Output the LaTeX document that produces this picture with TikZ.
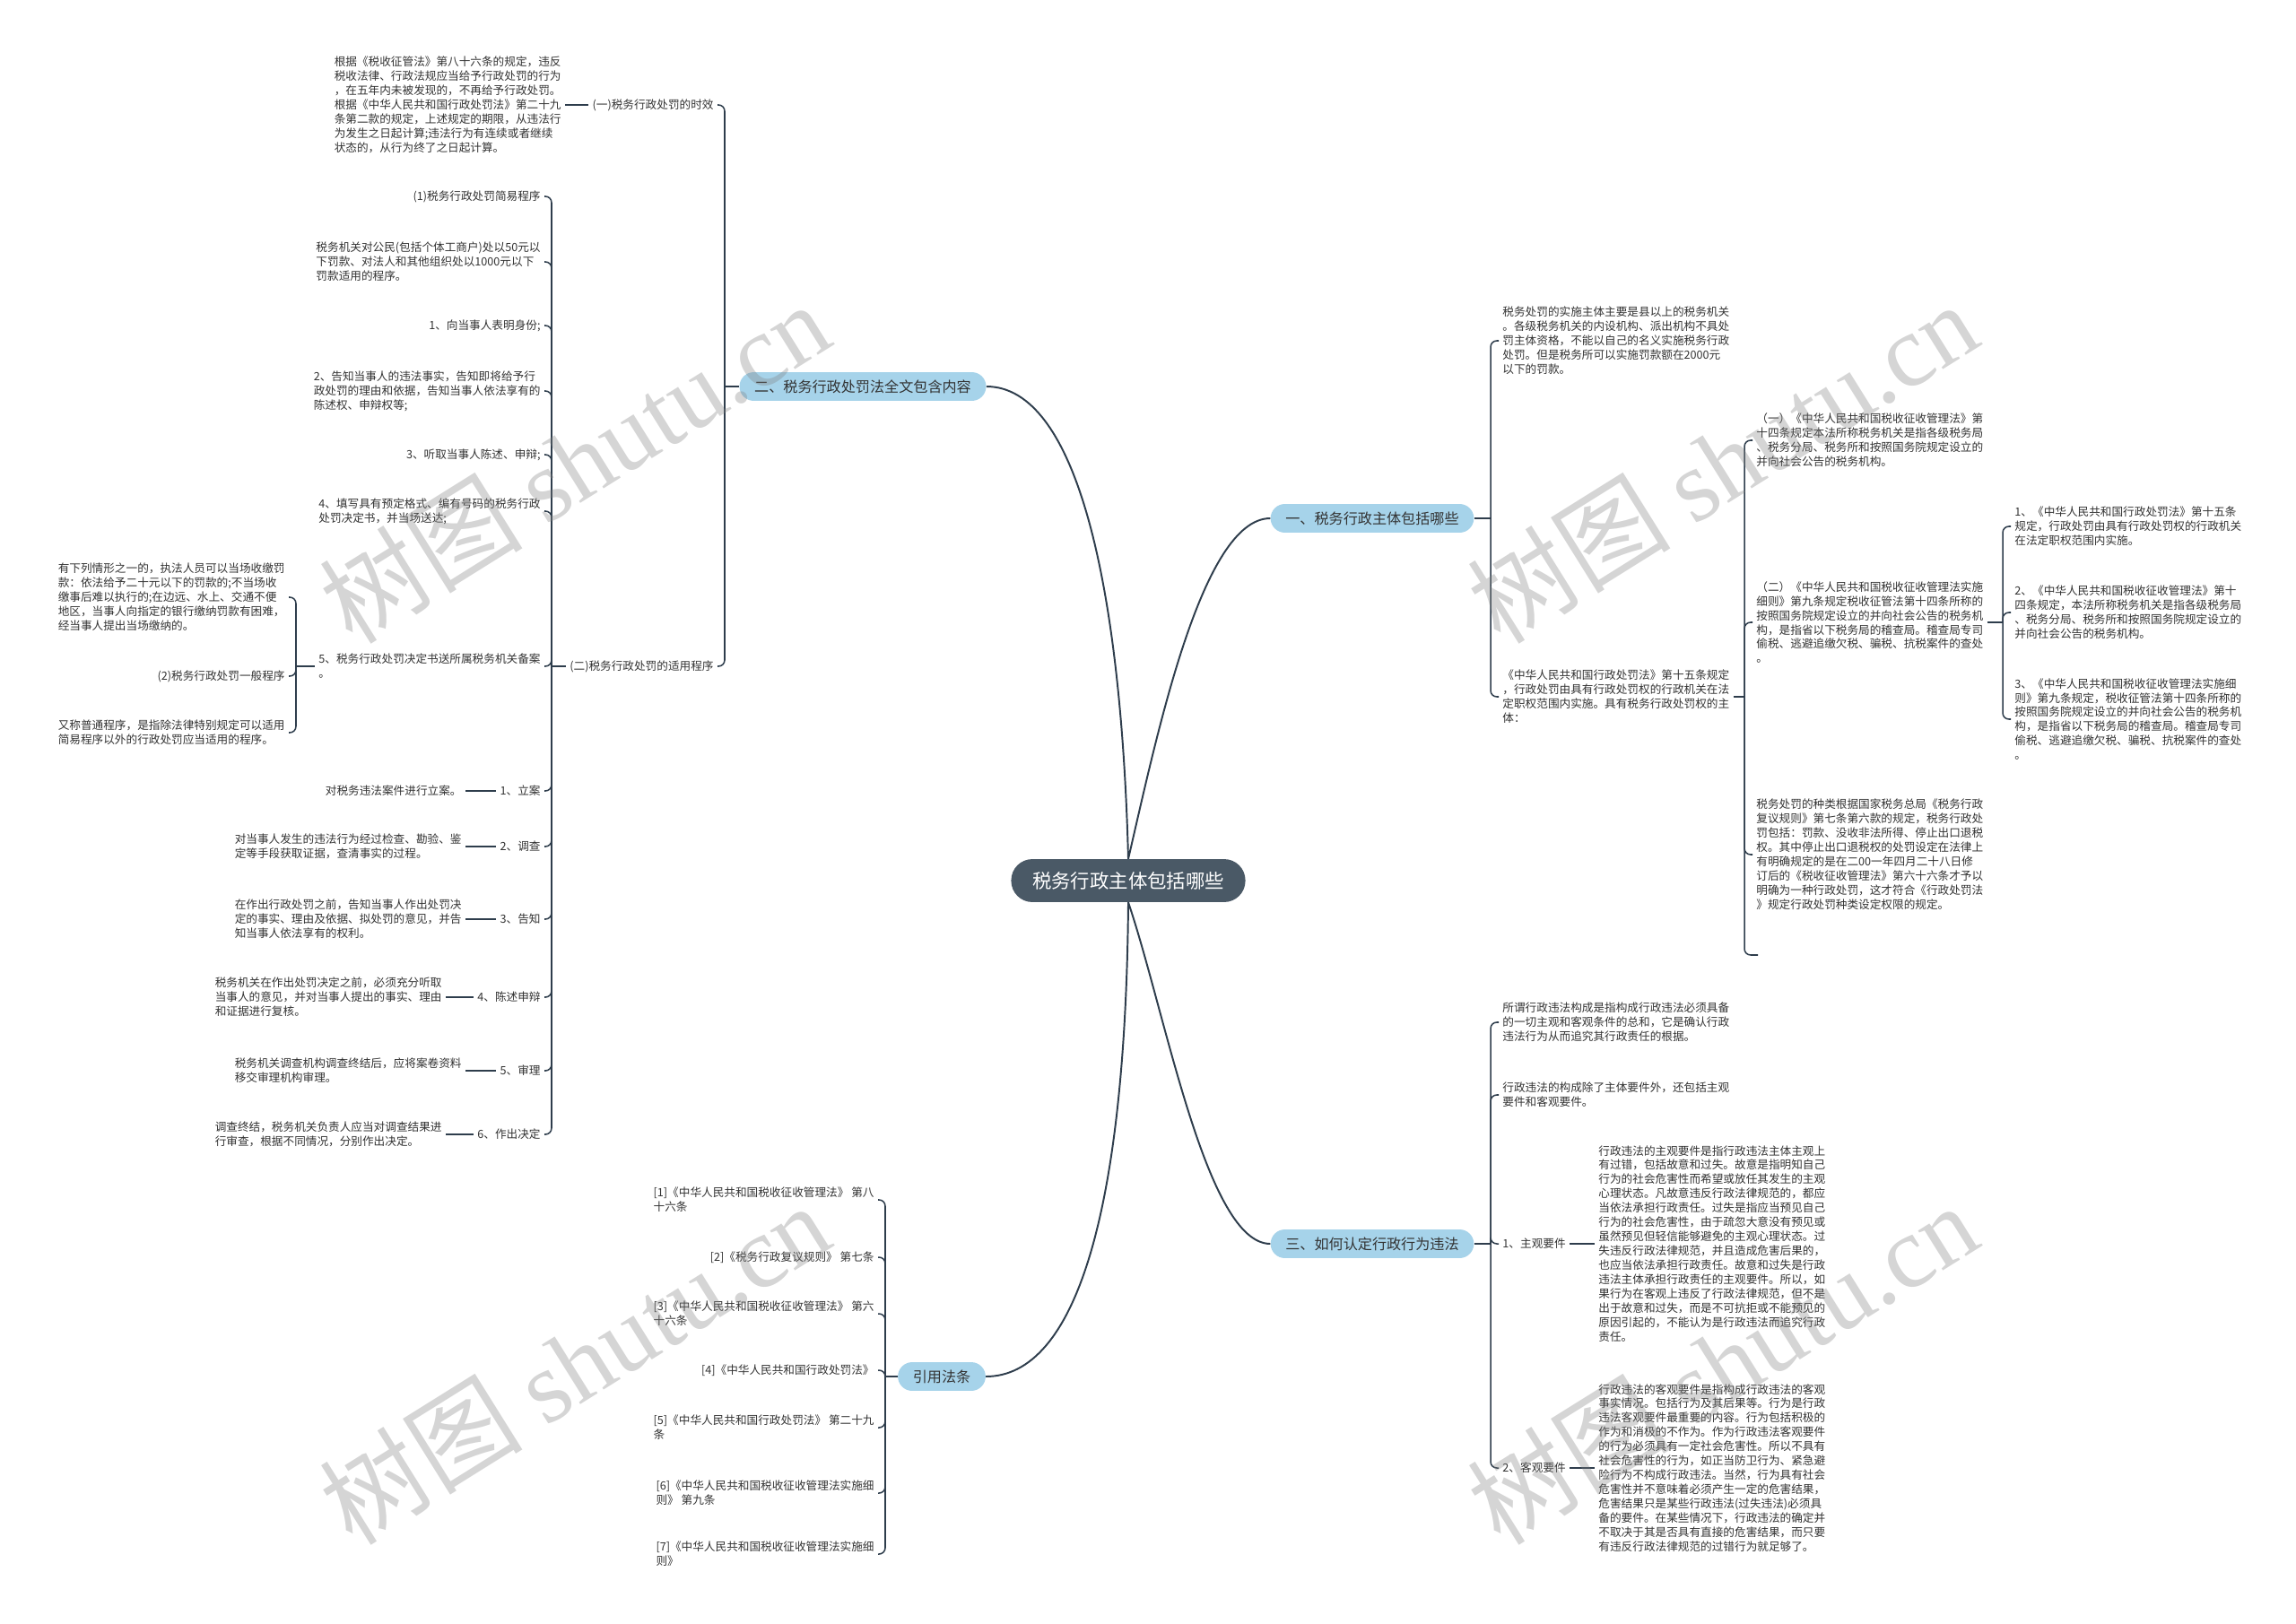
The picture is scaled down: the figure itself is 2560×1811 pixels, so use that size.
\documentclass[tikz,border=0pt]{standalone}
\usepackage{fontspec}
\setmainfont{Noto Sans CJK SC}
\newfontfamily\wmlatin{Liberation Serif}
\definecolor{linec}{HTML}{2E3D4C}
\definecolor{mainf}{HTML}{4A5966}
\definecolor{brf}{HTML}{A6D3EA}
\definecolor{txtc}{HTML}{333333}
\begin{document}
\begin{tikzpicture}[x=0.72pt,y=-0.72pt,
 tx/.style={inner xsep=3pt,inner ysep=1pt,font=\fontsize{9.1pt}{11.5pt}\selectfont,text=txtc,align=left},
 txl/.style={tx,anchor=east},
 txr/.style={tx,anchor=west},
 brn/.style={fill=brf,rounded corners=11.5pt,minimum height=23pt,inner xsep=12pt,inner ysep=2pt,font=\fontsize{11.6pt}{14pt}\selectfont,text=txtc},
 mainn/.style={fill=mainf,rounded corners=17pt,minimum height=34.5pt,minimum width=188pt,font=\fontsize{15.4pt}{18pt}\selectfont,text=white},
 ln/.style={draw=linec,line width=1.1pt},
 lnk/.style={ln,rounded corners=5pt},
 mln/.style={draw=linec,line width=1.4pt},
 wm/.style={text=gray,opacity=0.33,rotate=32,font=\fontsize{82pt}{82pt}\selectfont}
]
\fill[white] (0,0) rectangle (2560,1811);
\useasboundingbox (0,0) rectangle (2560,1811);

% ---------- main and branches
\node[mainn] (main) at (1258,982) {税务行政主体包括哪些};
\node[brn] (b2) at (962,431) {二、税务行政处罚法全文包含内容};
\node[brn] (b1) at (1530,578) {一、税务行政主体包括哪些};
\node[brn] (b3) at (1530,1387) {三、如何认定行政行为违法};
\node[brn] (b4) at (1050,1535) {引用法条};

\draw[mln] (main.north) .. controls (1250,650) and (1200,431) .. (b2.east);
\draw[mln] (main.north) .. controls (1290,820) and (1340,578) .. (b1.west);
\draw[mln] (main.south) .. controls (1300,1130) and (1345,1387) .. (b3.west);
\draw[mln] (main.south) .. controls (1255,1350) and (1200,1535) .. (b4.east);

% ---------- branch 二
\node[txl] (L1) at (800,117) {(一)税务行政处罚的时效};
\node[txl] (L2) at (800,743) {(二)税务行政处罚的适用程序};
\draw[ln] (b2.west) -- (808,431);
\draw[lnk] (808,431) |- (L1.east);
\draw[lnk] (808,431) |- (L2.east);

\node[txl] (L1c) at (630,117) {根据《税收征管法》第八十六条的规定，违反\\税收法律、行政法规应当给予行政处罚的行为\\，在五年内未被发现的，不再给予行政处罚。\\根据《中华人民共和国行政处罚法》第二十九\\条第二款的规定，上述规定的期限，从违法行\\为发生之日起计算;违法行为有连续或者继续\\状态的，从行为终了之日起计算。};
\draw[ln] (L1c.east) -- (L1.west);

\node[txl] (B1) at (607,219) {(1)税务行政处罚简易程序};
\node[txl] (B2) at (607,292) {税务机关对公民(包括个体工商户)处以50元以\\下罚款、对法人和其他组织处以1000元以下\\罚款适用的程序。};
\node[txl] (B3) at (607,363) {1、向当事人表明身份;};
\node[txl] (B4) at (607,436) {2、告知当事人的违法事实，告知即将给予行\\政处罚的理由和依据，告知当事人依法享有的\\陈述权、申辩权等;};
\node[txl] (B5) at (607,507) {3、听取当事人陈述、申辩;};
\node[txl] (B6) at (607,570) {4、填写具有预定格式、编有号码的税务行政\\处罚决定书，并当场送达;};
\node[txl] (B7) at (607,743) {5、税务行政处罚决定书送所属税务机关备案\\。};
\node[txl] (B8) at (607,882) {1、立案};
\node[txl] (B9) at (607,944) {2、调查};
\node[txl] (B10) at (607,1025) {3、告知};
\node[txl] (B11) at (607,1112) {4、陈述申辩};
\node[txl] (B12) at (607,1194) {5、审理};
\node[txl] (B13) at (607,1265) {6、作出决定};
\draw[ln] (L2.west) -- (615,743);
\foreach \n in {B1,B2,B3,B4,B5,B6,B7,B8,B9,B10,B11,B12,B13}
  \draw[lnk] (615,743) |- (\n.east);

\node[txl] (C1) at (322,666) {有下列情形之一的，执法人员可以当场收缴罚\\款：依法给予二十元以下的罚款的;不当场收\\缴事后难以执行的;在边远、水上、交通不便\\地区，当事人向指定的银行缴纳罚款有困难，\\经当事人提出当场缴纳的。};
\node[txl] (C2) at (322,754) {(2)税务行政处罚一般程序};
\node[txl] (C3) at (322,817) {又称普通程序，是指除法律特别规定可以适用\\简易程序以外的行政处罚应当适用的程序。};
\draw[ln] (B7.west) -- (330,743);
\foreach \n in {C1,C2,C3}
  \draw[lnk] (330,743) |- (\n.east);

\node[txl] (B8c) at (519,882) {对税务违法案件进行立案。};
\node[txl] (B9c) at (519,944) {对当事人发生的违法行为经过检查、勘验、鉴\\定等手段获取证据，查清事实的过程。};
\node[txl] (B10c) at (519,1025) {在作出行政处罚之前，告知当事人作出处罚决\\定的事实、理由及依据、拟处罚的意见，并告\\知当事人依法享有的权利。};
\node[txl] (B11c) at (497,1112) {税务机关在作出处罚决定之前，必须充分听取\\当事人的意见，并对当事人提出的事实、理由\\和证据进行复核。};
\node[txl] (B12c) at (519,1194) {税务机关调查机构调查终结后，应将案卷资料\\移交审理机构审理。};
\node[txl] (B13c) at (497,1265) {调查终结，税务机关负责人应当对调查结果进\\行审查，根据不同情况，分别作出决定。};
\foreach \n in {B8,B9,B10,B11,B12,B13}
  \draw[ln] (\n c.east) -- (\n.west);

% ---------- branch 一
\node[txr] (D1) at (1671,380) {税务处罚的实施主体主要是县以上的税务机关\\。各级税务机关的内设机构、派出机构不具处\\罚主体资格，不能以自己的名义实施税务行政\\处罚。但是税务所可以实施罚款额在2000元\\以下的罚款。};
\node[txr] (D2) at (1671,777) {《中华人民共和国行政处罚法》第十五条规定\\，行政处罚由具有行政处罚权的行政机关在法\\定职权范围内实施。具有税务行政处罚权的主\\体：};
\draw[ln] (b1.east) -- (1662,578);
\draw[lnk] (1662,578) |- (D1.west);
\draw[lnk] (1662,578) |- (D2.west);

\node[txr] (E1) at (1954,491) {（一）《中华人民共和国税收征收管理法》第\\十四条规定本法所称税务机关是指各级税务局\\、税务分局、税务所和按照国务院规定设立的\\并向社会公告的税务机构。};
\node[txr] (E2) at (1954,694) {（二）《中华人民共和国税收征收管理法实施\\细则》第九条规定税收征管法第十四条所称的\\按照国务院规定设立的并向社会公告的税务机\\构，是指省以下税务局的稽查局。稽查局专司\\偷税、逃避追缴欠税、骗税、抗税案件的查处\\。};
\node[txr] (E3) at (1954,953) {税务处罚的种类根据国家税务总局《税务行政\\复议规则》第七条第六款的规定，税务行政处\\罚包括：罚款、没收非法所得、停止出口退税\\权。其中停止出口退税权的处罚设定在法律上\\有明确规定的是在二00一年四月二十八日修\\订后的《税收征收管理法》第六十六条才予以\\明确为一种行政处罚，这才符合《行政处罚法\\》规定行政处罚种类设定权限的规定。};
\coordinate (E4) at (1960,1065);
\draw[ln] (D2.east) -- (1945,777);
\foreach \n in {E1,E2,E3,E4}
  \draw[lnk] (1945,777) |- (\n.west);

\node[txr] (F1) at (2242,587) {1、《中华人民共和国行政处罚法》第十五条\\规定，行政处罚由具有行政处罚权的行政机关\\在法定职权范围内实施。};
\node[txr] (F2) at (2242,683) {2、《中华人民共和国税收征收管理法》第十\\四条规定，本法所称税务机关是指各级税务局\\、税务分局、税务所和按照国务院规定设立的\\并向社会公告的税务机构。};
\node[txr] (F3) at (2242,802) {3、《中华人民共和国税收征收管理法实施细\\则》第九条规定，税收征管法第十四条所称的\\按照国务院规定设立的并向社会公告的税务机\\构，是指省以下税务局的稽查局。稽查局专司\\偷税、逃避追缴欠税、骗税、抗税案件的查处\\。};
\draw[ln] (E2.east) -- (2233,694);
\foreach \n in {F1,F2,F3}
  \draw[lnk] (2233,694) |- (\n.west);

% ---------- branch 三
\node[txr] (G1) at (1671,1140) {所谓行政违法构成是指构成行政违法必须具备\\的一切主观和客观条件的总和，它是确认行政\\违法行为从而追究其行政责任的根据。};
\node[txr] (G2) at (1671,1221) {行政违法的构成除了主体要件外，还包括主观\\要件和客观要件。};
\node[txr] (G3) at (1671,1387) {1、主观要件};
\node[txr] (G4) at (1671,1637) {2、客观要件};
\draw[ln] (b3.east) -- (1662,1387);
\foreach \n in {G1,G2,G3,G4}
  \draw[lnk] (1662,1387) |- (\n.west);

\node[txr] (G3c) at (1778,1387) {行政违法的主观要件是指行政违法主体主观上\\有过错，包括故意和过失。故意是指明知自己\\行为的社会危害性而希望或放任其发生的主观\\心理状态。凡故意违反行政法律规范的，都应\\当依法承担行政责任。过失是指应当预见自己\\行为的社会危害性，由于疏忽大意没有预见或\\虽然预见但轻信能够避免的主观心理状态。过\\失违反行政法律规范，并且造成危害后果的，\\也应当依法承担行政责任。故意和过失是行政\\违法主体承担行政责任的主观要件。所以，如\\果行为在客观上违反了行政法律规范，但不是\\出于故意和过失，而是不可抗拒或不能预见的\\原因引起的，不能认为是行政违法而追究行政\\责任。};
\node[txr] (G4c) at (1778,1637) {行政违法的客观要件是指构成行政违法的客观\\事实情况。包括行为及其后果等。行为是行政\\违法客观要件最重要的内容。行为包括积极的\\作为和消极的不作为。作为行政违法客观要件\\的行为必须具有一定社会危害性。所以不具有\\社会危害性的行为，如正当防卫行为、紧急避\\险行为不构成行政违法。当然，行为具有社会\\危害性并不意味着必须产生一定的危害结果，\\危害结果只是某些行政违法(过失违法)必须具\\备的要件。在某些情况下，行政违法的确定并\\不取决于其是否具有直接的危害结果，而只要\\有违反行政法律规范的过错行为就足够了。};
\draw[ln] (G3.east) -- (G3c.west);
\draw[ln] (G4.east) -- (G4c.west);

% ---------- 引用法条
\node[txl] (H1) at (979,1338) {[1]《中华人民共和国税收征收管理法》 第八\\十六条};
\node[txl] (H2) at (979,1402) {[2]《税务行政复议规则》 第七条};
\node[txl] (H3) at (979,1465) {[3]《中华人民共和国税收征收管理法》 第六\\十六条};
\node[txl] (H4) at (979,1528) {[4]《中华人民共和国行政处罚法》};
\node[txl] (H5) at (979,1592) {[5]《中华人民共和国行政处罚法》 第二十九\\条};
\node[txl] (H6) at (979,1665) {[6]《中华人民共和国税收征收管理法实施细\\则》 第九条};
\node[txl] (H7) at (979,1733) {[7]《中华人民共和国税收征收管理法实施细\\则》};
\draw[ln] (b4.west) -- (987,1535);
\foreach \n in {H1,H2,H3,H4,H5,H6,H7}
  \draw[lnk] (987,1535) |- (\n.east);

% ---------- watermarks
\node[wm] (w1) at (640,515) {树图 {\wmlatin shutu.cn}};
\node[wm] (w2) at (1920,515) {树图 {\wmlatin shutu.cn}};
\node[wm] (w3) at (640,1520) {树图 {\wmlatin shutu.cn}};
\node[wm] (w4) at (1920,1520) {树图 {\wmlatin shutu.cn}};
\end{tikzpicture}
\end{document}
